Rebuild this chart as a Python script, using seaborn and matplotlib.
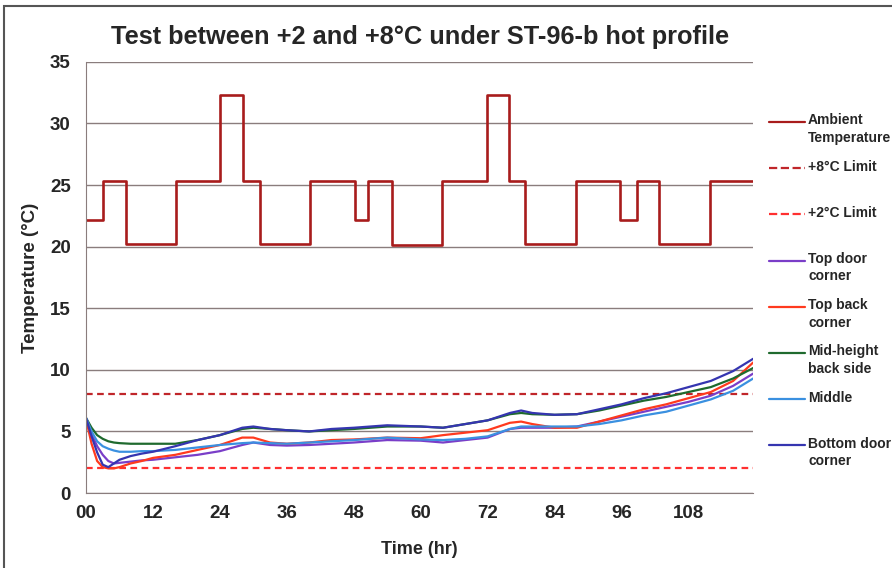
import numpy as np
import pandas as pd
import matplotlib
matplotlib.use("Agg")
import matplotlib.pyplot as plt
from matplotlib.lines import Line2D
from matplotlib.patches import Rectangle
import seaborn as sns

# ambient profile (step changes)
amb_hours = [0, 3.0, 7.2, 16.1, 24.0, 28.2, 31.2, 40.2, 48.2, 50.6, 54.9, 63.9,
             71.8, 75.9, 78.7, 87.9, 95.8, 98.8, 102.8, 111.8, 119.6]
amb_temp = [22.2, 25.3, 20.2, 25.3, 32.3, 25.3, 20.2, 25.3, 22.2, 25.3, 20.1, 25.3,
            32.3, 25.3, 20.2, 25.3, 22.2, 25.3, 20.2, 25.3, 25.3]

limit_high = 8
limit_low = 2

# probe readings
hours = [0, 1, 2, 3, 4, 5, 6, 8, 10, 12, 16, 20, 24, 28, 30, 33, 36, 40, 44, 48,
         54, 60, 64, 68, 72, 76, 78, 80, 84, 88, 92, 96, 100, 104, 108, 112, 116, 119.6]
top_door = [6.0, 4.8, 3.8, 3.1, 2.6, 2.4, 2.45, 2.55, 2.65, 2.7, 2.9, 3.1, 3.4, 3.9,
            4.1, 3.9, 3.85, 3.9, 4.0, 4.1, 4.3, 4.25, 4.1, 4.3, 4.5, 5.2, 5.3, 5.3,
            5.3, 5.4, 5.8, 6.2, 6.6, 7.0, 7.4, 7.9, 8.7, 9.7]
top_back = [6.0, 4.0, 2.6, 2.1, 2.0, 2.0, 2.1, 2.4, 2.6, 2.85, 3.1, 3.5, 3.9, 4.5,
            4.5, 4.1, 4.0, 4.1, 4.3, 4.35, 4.5, 4.45, 4.7, 4.9, 5.1, 5.7, 5.8, 5.6,
            5.3, 5.3, 5.8, 6.3, 6.8, 7.2, 7.7, 8.2, 9.1, 10.6]
mid_back = [6.1, 5.3, 4.7, 4.4, 4.2, 4.1, 4.05, 4.0, 4.0, 4.0, 4.0, 4.3, 4.7, 5.2,
            5.3, 5.2, 5.1, 5.0, 5.1, 5.2, 5.4, 5.4, 5.3, 5.6, 5.9, 6.4, 6.5, 6.4,
            6.35, 6.4, 6.7, 7.1, 7.5, 7.8, 8.2, 8.6, 9.3, 10.15]
middle = [6.1, 5.0, 4.2, 3.8, 3.6, 3.45, 3.35, 3.35, 3.4, 3.4, 3.5, 3.7, 3.9, 4.05,
          4.1, 4.05, 4.0, 4.1, 4.2, 4.3, 4.5, 4.35, 4.3, 4.4, 4.6, 5.2, 5.4, 5.4,
          5.4, 5.4, 5.6, 5.9, 6.3, 6.6, 7.1, 7.6, 8.3, 9.3]
bottom_door = [6.1, 4.6, 3.3, 2.3, 2.1, 2.4, 2.7, 3.0, 3.2, 3.35, 3.8, 4.3, 4.7, 5.3,
               5.4, 5.2, 5.1, 5.0, 5.2, 5.3, 5.5, 5.4, 5.3, 5.6, 5.9, 6.5, 6.7, 6.5,
               6.35, 6.4, 6.8, 7.2, 7.7, 8.1, 8.6, 9.1, 9.9, 10.9]

probes = [
    ("Top door\ncorner", top_door, "#7a3ec8"),
    ("Top back\ncorner", top_back, "#ff3a1e"),
    ("Mid-height\nback side", mid_back, "#1f6a2e"),
    ("Middle", middle, "#3a90e0"),
    ("Bottom door\ncorner", bottom_door, "#3535b0"),
]

sns.set_style("white")
plt.rcParams['font.family'] = ['Liberation Sans', 'DejaVu Sans']
plt.rcParams['font.weight'] = 'bold'

fig = plt.figure(figsize=(8.92, 5.68), dpi=100)
ax = fig.add_axes([0.0964, 0.132, 0.748, 0.759])

amb_df = pd.DataFrame({"Time": amb_hours, "Temp": amb_temp})
sns.lineplot(data=amb_df, x="Time", y="Temp", ax=ax, color="#a81c1c", lw=1.9,
             drawstyle="steps-post", label="Ambient\nTemperature")

ax.axhline(limit_high, color="#c0262a", ls=(0, (3, 2)), lw=1.6, label="+8°C Limit")
ax.axhline(limit_low, color="#ff3030", ls=(0, (3, 2)), lw=1.6, label="+2°C Limit")

for name, vals, col in probes:
    df = pd.DataFrame({"Time": hours, "Temp": vals})
    sns.lineplot(data=df, x="Time", y="Temp", ax=ax, color=col, lw=1.6, label=name)

ax.set_xlim(0, 119.6)
ax.set_ylim(0, 35)
ax.set_yticks(range(0, 36, 5))
ax.set_xticks(range(0, 120, 12))
ax.set_xticklabels(["00"] + [str(h) for h in range(12, 120, 12)])
ax.set_xticks(range(0, 120, 6), minor=True)
ax.grid(axis="y", color="#8a7d7d", lw=1)
ax.set_axisbelow(True)
for s in ["top", "right"]:
    ax.spines[s].set_visible(False)
for s in ["left", "bottom"]:
    ax.spines[s].set_color("#8a7d7d")
ax.tick_params(axis="both", which="both", direction="out", length=5, color="#8a7d7d",
               labelsize=13.5)
ax.tick_params(axis="x", which="minor", length=5)
ax.tick_params(axis="y", pad=6)

ax.set_xlabel("Time (hr)", fontsize=13, fontweight="bold", labelpad=14)
ax.set_ylabel("Temperature (°C)", fontsize=13.5, fontweight="bold", labelpad=8)
ax.set_title("Test between +2 and +8°C under ST-96-b hot profile",
             fontsize=18.3, fontweight="bold", pad=13)

# legend on the right, drawn entry by entry
handles, labels = ax.get_legend_handles_labels()
ax.get_legend().remove()
y0 = 1 - 122 / 568
step = 46.2 / 568
for i, (h, lab) in enumerate(zip(handles, labels)):
    y = y0 - i * step
    fig.add_artist(Line2D([0.862, 0.903], [y, y], color=h.get_color(),
                          ls=h.get_linestyle(), lw=1.6, transform=fig.transFigure))
    fig.text(0.906, y + 0.015, lab, fontsize=10, fontweight="bold", va="top",
             ha="left", linespacing=1.3)

fig.add_artist(Rectangle((0.005, -0.05), 1.2, 1.04, fill=False, ec="#555555",
                         lw=1.5, transform=fig.transFigure))

fig.savefig("out.png", dpi=100)
